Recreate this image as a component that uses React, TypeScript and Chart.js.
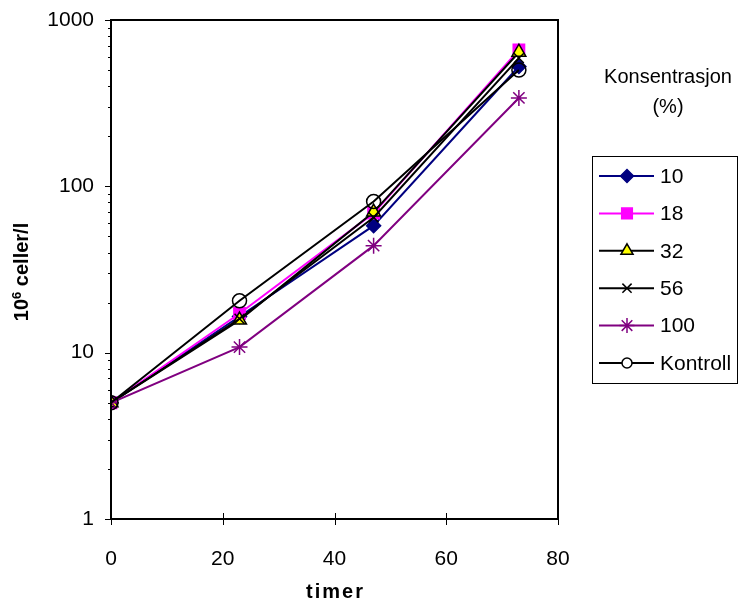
import React, { useEffect, useRef } from 'react';
import { Chart, registerables } from 'chart.js';
import { drawPoint } from 'chart.js/helpers';
Chart.register(...registerables);

const hours = [0, 23, 47, 73];
const c10 = [5, 16.5, 58, 525];
const c18 = [5, 17.2, 69, 660];
const c32 = [5, 15.7, 70, 640];
const c56 = [5, 16, 65, 590];
const c100 = [5, 10.8, 44, 340];
const kontroll = [5, 20.5, 81, 500];
const seriesLabels = ['10', '18', '32', '56', '100', 'Kontroll'];
const yTickLabels = [1, 10, 100, 1000];
const xTickLabels = [0, 20, 40, 60, 80];
const legendTitle = ['Konsentrasjon', '(%)'];
const xTitle = 'timer';

const FONT = '"Liberation Sans", Arial, sans-serif';

const yTickValues: number[] = [];
for (const d of [1, 10, 100]) for (let k = 1; k <= 9; k++) yTickValues.push(d * k);
yTickValues.push(1000);

const styles = [
  { color: '#000080', pointStyle: 'rectRot', bg: '#000080', border: '#000080', r: 7, lr: 6.5 },
  { color: '#FF00FF', pointStyle: 'rect', bg: '#FF00FF', border: '#FF00FF', r: 8, lr: 7.5 },
  { color: '#000000', pointStyle: 'triangle', bg: '#FFFF00', border: '#000000', r: 8, lr: 7 },
  { color: '#000000', pointStyle: 'crossRot', bg: '#000000', border: '#000000', r: 7, lr: 6.5 },
  { color: '#800080', pointStyle: 'star', bg: '#800080', border: '#800080', r: 8, lr: 7.5 },
  { color: '#000000', pointStyle: 'circle', bg: 'rgba(0,0,0,0)', border: '#000000', r: 7, lr: 5 },
];

const seriesData = [c10, c18, c32, c56, c100, kontroll];

const decorPlugin = {
  id: 'decor',
  afterDraw(chart: any) {
    const { ctx, chartArea } = chart;
    const { left, right, top, bottom } = chartArea;
    const ys = chart.scales.y;
    const xs = chart.scales.x;
    ctx.save();
    // box
    ctx.strokeStyle = '#000';
    ctx.lineWidth = 2;
    ctx.strokeRect(left, top, right - left, bottom - top);
    // y ticks
    ctx.lineWidth = 1;
    for (const v of yTickValues) {
      const py = Math.round(ys.getPixelForValue(v)) + 0.5;
      const len = yTickLabels.includes(v) ? 6 : 3;
      ctx.beginPath();
      ctx.moveTo(left - len, py);
      ctx.lineTo(left, py);
      ctx.stroke();
    }
    // x ticks
    for (const v of xTickLabels) {
      const px = Math.round(xs.getPixelForValue(v)) + 0.5;
      ctx.beginPath();
      ctx.moveTo(px, bottom - 6);
      ctx.lineTo(px, bottom + 6);
      ctx.stroke();
    }
    // x title
    ctx.fillStyle = '#000';
    ctx.font = `bold 20px ${FONT}`;
    (ctx as any).letterSpacing = '2px';
    ctx.textAlign = 'center';
    ctx.textBaseline = 'middle';
    ctx.fillText(xTitle, (left + right) / 2 + 1, 592);
    (ctx as any).letterSpacing = '0px';

    // y title: 10^6 celler/l rotated
    ctx.save();
    ctx.translate(21, 272);
    ctx.rotate(-Math.PI / 2);
    const big = `bold 20px ${FONT}`;
    const small = `bold 13px ${FONT}`;
    ctx.font = big;
    const w1 = ctx.measureText('10').width;
    const w3 = ctx.measureText(' celler/l').width;
    ctx.font = small;
    const w2 = ctx.measureText('6').width;
    const total = w1 + w2 + w3;
    let x0 = -total / 2;
    ctx.textAlign = 'left';
    ctx.textBaseline = 'alphabetic';
    ctx.font = big;
    ctx.fillText('10', x0, 7);
    x0 += w1;
    ctx.font = small;
    ctx.fillText('6', x0, -0.5);
    x0 += w2;
    ctx.font = big;
    ctx.fillText(' celler/l', x0, 7);
    ctx.restore();

    // legend
    ctx.font = `20px ${FONT}`;
    ctx.textAlign = 'center';
    ctx.textBaseline = 'middle';
    ctx.fillText(legendTitle[0], 668, 77);
    ctx.fillText(legendTitle[1], 668, 107);
    ctx.lineWidth = 1;
    ctx.strokeStyle = '#000';
    ctx.strokeRect(592.5, 156.5, 145, 227);
    ctx.textAlign = 'left';
    ctx.font = `21px ${FONT}`;
    seriesLabels.forEach((lab, i) => {
      const st = styles[i];
      const y = 176 + i * 37.4;
      ctx.strokeStyle = st.color;
      ctx.lineWidth = 2;
      ctx.beginPath();
      ctx.moveTo(599, y);
      ctx.lineTo(654, y);
      ctx.stroke();
      ctx.fillStyle = st.pointStyle === 'circle' ? '#FFFFFF' : st.bg;
      ctx.strokeStyle = st.border;
      ctx.lineWidth = 1.5;
      drawPoint(ctx, { pointStyle: st.pointStyle as any, radius: st.lr, rotation: 0, borderWidth: 1.5 }, 627, y);
      ctx.fillStyle = '#000';
      ctx.fillText(lab, 660, y + 1);
    });
    ctx.restore();
  },
};

export default function App() {
  const ref = useRef<HTMLCanvasElement>(null);
  useEffect(() => {
    const canvas = ref.current!;
    const chart = new Chart(canvas, {
      type: 'line',
      data: {
        datasets: seriesLabels.map((lab, i) => ({
          label: lab,
          data: hours.map((h, j) => ({ x: h, y: seriesData[i][j] })),
          borderColor: styles[i].color,
          backgroundColor: styles[i].bg,
          borderWidth: 2,
          pointStyle: styles[i].pointStyle as any,
          pointRadius: styles[i].r,
          pointHoverRadius: styles[i].r,
          pointBackgroundColor: styles[i].bg,
          pointBorderColor: styles[i].border,
          pointBorderWidth: 1.5,
          tension: 0,
          fill: false,
          order: 6 - i,
        })),
      },
      options: {
        animation: false,
        responsive: false,
        events: [],
        layout: { padding: { left: 0, right: 181, top: 20, bottom: 0 } },
        plugins: { legend: { display: false }, tooltip: { enabled: false }, title: { display: false } },
        scales: {
          x: {
            type: 'linear',
            min: 0,
            max: 80,
            grid: { display: false },
            border: { display: false },
            afterBuildTicks: (scale: any) => {
              scale.ticks = xTickLabels.map((v) => ({ value: v }));
            },
            ticks: {
              color: '#000',
              font: { family: FONT, size: 21 },
              padding: 20,
              autoSkip: false,
              maxRotation: 0,
              callback: (v: any) => String(v),
            },
            afterFit: (scale: any) => {
              scale.height = 89;
              scale.paddingLeft = 0;
              scale.paddingRight = 0;
            },
          },
          y: {
            type: 'logarithmic',
            min: 1,
            max: 1000,
            grid: { display: false },
            border: { display: false },
            afterBuildTicks: (scale: any) => {
              scale.ticks = yTickValues.map((v) => ({ value: v, major: yTickLabels.includes(v) }));
            },
            ticks: {
              color: '#000',
              font: { family: FONT, size: 21 },
              padding: 9,
              autoSkip: false,
              callback: (v: any) => (yTickLabels.includes(Number(v)) ? String(v) : ''),
            },
            afterFit: (scale: any) => {
              scale.width = 111;
              scale.paddingTop = 0;
              scale.paddingBottom = 0;
            },
          },
        },
      },
      plugins: [decorPlugin],
    });
    return () => chart.destroy();
  }, []);
  return (
    <div style={{ position: 'fixed', left: 0, top: 0, width: 739, height: 608, background: '#fff' }}>
      <canvas ref={ref} width={739} height={608} style={{ display: 'block' }} />
    </div>
  );
}
